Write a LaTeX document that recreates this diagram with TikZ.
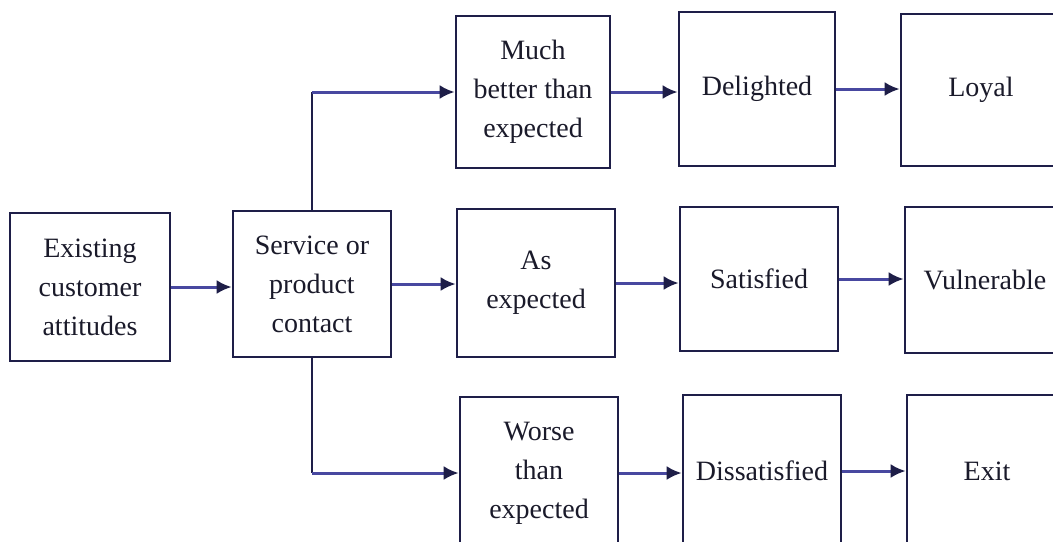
\documentclass[tikz,border=0pt]{standalone}
\usepackage{fontspec}
\setmainfont{Liberation Serif}
\usetikzlibrary{arrows.meta}
\definecolor{boxc}{HTML}{1E1E48}
\definecolor{linec}{HTML}{4848A0}
\definecolor{txtc}{HTML}{1A1A2A}
\tikzset{
  stagebox/.style={draw=boxc, line width=1.3pt, inner sep=0pt, align=center,
    text=txtc, font=\fontsize{14}{19.5}\selectfont},
  conn/.style={draw=linec, line width=1.5pt, -{Latex[length=7.5pt,width=7pt,color=boxc]}},
  plainline/.style={draw=boxc, line width=1.3pt},
}
\begin{document}
\begin{tikzpicture}[x=0.5pt, y=-0.5pt]
\useasboundingbox (0,0) rectangle (1053,541);
\clip (0,0) rectangle (1053,541);
\fill[white] (0,0) rectangle (1053,541);
% left column
\node[stagebox, minimum width=80pt, minimum height=74pt] (ex) at (90,287) {Existing\\customer\\attitudes};
\node[stagebox, minimum width=79pt, minimum height=73pt] (svc) at (312,284) {Service or\\product\\contact};
% expectation column
\node[stagebox, minimum width=77pt, minimum height=76pt] (much) at (533,92) {Much\\better than\\expected};
\node[stagebox, minimum width=79pt, minimum height=74pt] (asexp) at (536,283) {As\\expected};
\node[stagebox, minimum width=79pt, minimum height=76pt] (worse) at (539,473) {Worse\\than\\expected};
% satisfaction column
\node[stagebox, minimum width=78pt, minimum height=77pt] (del) at (757,89) {Delighted};
\node[stagebox, minimum width=79pt, minimum height=72pt] (sat) at (759,279) {Satisfied};
\node[stagebox, minimum width=79pt, minimum height=76pt] (dis) at (762,471) {Dissatisfied};
% outcome column
\node[stagebox, minimum width=80pt, minimum height=76pt] (loyal) at (981,90) {Loyal};
\node[stagebox, minimum width=80pt, minimum height=73pt] (vul) at (985,280) {Vulnerable};
\node[stagebox, minimum width=80pt, minimum height=76pt] (exit) at (987,471) {Exit};
% connectors
\draw[conn] (ex.east) -- (ex.east -| svc.west);
\draw[conn] (svc.east) -- (svc.east -| asexp.west);
\draw[plainline] (svc.north) -- (svc.north |- much.west);
\draw[conn] (svc.north |- much.west) -- (much.west);
\draw[plainline] (svc.south) -- (svc.south |- worse.west);
\draw[conn] (svc.south |- worse.west) -- (worse.west);
\draw[conn] (much.east) -- (much.east -| del.west);
\draw[conn] (asexp.east) -- (asexp.east -| sat.west);
\draw[conn] (worse.east) -- (worse.east -| dis.west);
\draw[conn] (del.east) -- (del.east -| loyal.west);
\draw[conn] (sat.east) -- (sat.east -| vul.west);
\draw[conn] (dis.east) -- (dis.east -| exit.west);
\end{tikzpicture}
\end{document}
